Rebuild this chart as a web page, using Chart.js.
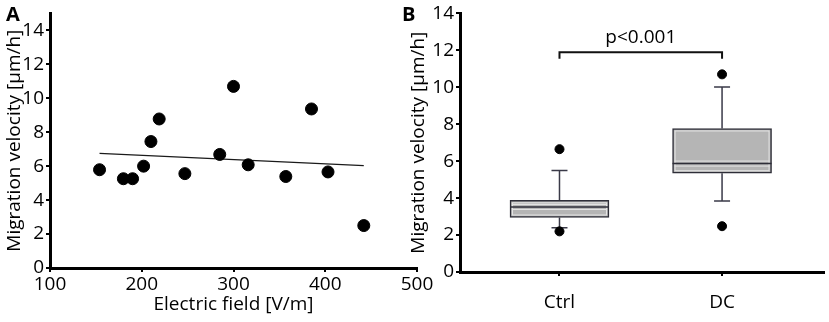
<!DOCTYPE html>
<html>
<head>
<meta charset="utf-8">
<script src="https://cdn.jsdelivr.net/npm/chart.js@4.4.1/dist/chart.umd.min.js"></script>
<style>
    body { margin: 0; background: #fff; width: 829px; height: 322px; position: relative; overflow: hidden; font-family: "Open Sans", sans-serif; }
    canvas { position: absolute; top: 0; }
    #chartA { left: 0; }
    #chartB { left: 395px; }
    .panel { position: absolute; top: 0; font-weight: bold; font-size: 20px; color: #000; }
</style>
</head>
<body>
<canvas id="chartA" width="440" height="322"></canvas>
<canvas id="chartB" width="434" height="322"></canvas>
<div class="panel" style="left:6px">A</div>
<div class="panel" style="left:402px">B</div>
<script>
// Panel A: migration velocity vs electric field
const fieldStrength = [154, 180, 190, 202, 210, 219, 247, 285, 300, 316, 357, 385, 403, 442];
const velocityA = [5.79, 5.26, 5.26, 6.0, 7.45, 8.78, 5.56, 6.69, 10.7, 6.08, 5.39, 9.37, 5.66, 2.5];
const fitX = [154, 442];
const fitY = [6.75, 6.03];
const ticksA = [0, 2, 4, 6, 8, 10, 12, 14];

// Panel B: box plots
const groups = ['Ctrl', 'DC'];
const groupPos = [1, 2];
const whiskerLow = [2.4, 3.85];
const q1 = [2.95, 5.35];
const median = [3.52, 5.87];
const q3 = [3.88, 7.77];
const whiskerHigh = [5.5, 10.02];
const outlierGroup = [1, 1, 2, 2];
const outlierY = [2.2, 6.65, 2.48, 10.7];
const pBracketY = 11.9;
const pBracketLeg = 11.55;
const pLabel = 'p<0.001';

const FONT = '"Open Sans", sans-serif';
const FS = 19;
Chart.defaults.font.family = FONT;
Chart.defaults.color = '#000';

const axisCommon = {
    grid: { drawOnChartArea: false, color: '#000', tickLength: 4, lineWidth: 2 },
    border: { color: '#000', width: 3 },
};

new Chart(document.getElementById('chartA').getContext('2d'), {
    type: 'scatter',
    data: {
        datasets: [
            {
                data: fieldStrength.map((x, i) => ({ x, y: velocityA[i] })),
                backgroundColor: '#000',
                borderColor: '#000',
                pointRadius: 6,
                pointHoverRadius: 6
            },
            {
                type: 'line',
                data: fitX.map((x, i) => ({ x, y: fitY[i] })),
                borderColor: '#1a1a1a',
                borderWidth: 1.3,
                pointRadius: 0,
                fill: false
            }
        ]
    },
    options: {
        responsive: false,
        animation: false,
        devicePixelRatio: 1,
        layout: { padding: { top: 5, right: 23, left: 0, bottom: 6 } },
        plugins: { legend: { display: false }, tooltip: { enabled: false } },
        scales: {
            x: {
                type: 'linear',
                min: 100,
                max: 500,
                ...axisCommon,
                ticks: { stepSize: 100, font: { size: FS }, padding: 1, maxRotation: 0 },
                title: { display: true, text: 'Electric field [V/m]', font: { size: FS }, padding: { top: 0, bottom: 0 } },
                afterFit: s => { s.height = 48; }
            },
            y: {
                min: 0,
                max: 15,
                ...axisCommon,
                ticks: { font: { size: FS }, padding: 2 },
                afterBuildTicks: s => { s.ticks = ticksA.map(v => ({ value: v })); },
                title: { display: true, text: 'Migration velocity [µm/h]', font: { size: FS }, padding: { top: 3, bottom: 0 } },
                afterFit: s => { s.width = 50; }
            }
        }
    }
});

const boxPlugin = {
    id: 'boxExtras',
    beforeDatasetsDraw(chart) {
        const { ctx, scales: { x, y } } = chart;
        ctx.save();
        ctx.strokeStyle = '#3a3a48';
        ctx.lineWidth = 1.5;
        groupPos.forEach((g, i) => {
            const px = x.getPixelForValue(g);
            ctx.beginPath();
            ctx.moveTo(px, y.getPixelForValue(q3[i]));
            ctx.lineTo(px, y.getPixelForValue(whiskerHigh[i]));
            ctx.moveTo(px - 8, y.getPixelForValue(whiskerHigh[i]));
            ctx.lineTo(px + 8, y.getPixelForValue(whiskerHigh[i]));
            ctx.moveTo(px, y.getPixelForValue(q1[i]));
            ctx.lineTo(px, y.getPixelForValue(whiskerLow[i]));
            ctx.moveTo(px - 8, y.getPixelForValue(whiskerLow[i]));
            ctx.lineTo(px + 8, y.getPixelForValue(whiskerLow[i]));
            ctx.stroke();
        });
        // significance bracket
        const x1 = x.getPixelForValue(groupPos[0]);
        const x2 = x.getPixelForValue(groupPos[1]);
        const by = y.getPixelForValue(pBracketY);
        const ly = y.getPixelForValue(pBracketLeg);
        ctx.strokeStyle = '#111';
        ctx.lineWidth = 2;
        ctx.beginPath();
        ctx.moveTo(x1, ly);
        ctx.lineTo(x1, by);
        ctx.lineTo(x2, by);
        ctx.lineTo(x2, ly);
        ctx.stroke();
        ctx.fillStyle = '#000';
        ctx.font = FS + 'px ' + FONT;
        ctx.textAlign = 'center';
        ctx.textBaseline = 'bottom';
        ctx.fillText(pLabel, (x1 + x2) / 2, by - 5);
        ctx.restore();
    },
    afterDatasetDraw(chart, args) {
        if (args.index !== 1) return;
        const { ctx, scales: { y } } = chart;
        const meta = chart.getDatasetMeta(1);
        ctx.save();
        meta.data.forEach((bar, i) => {
            const half = bar.width / 2;
            const top = y.getPixelForValue(q3[i]);
            const bottom = y.getPixelForValue(q1[i]);
            const my = y.getPixelForValue(median[i]);
            ctx.strokeStyle = '#e4e4e4';
            ctx.lineWidth = 1;
            ctx.strokeRect(bar.x - half + 2.5, top + 2.5, 2 * half - 5, bottom - top - 5);
            ctx.beginPath();
            ctx.moveTo(bar.x - half + 2, my - 2.5);
            ctx.lineTo(bar.x + half - 2, my - 2.5);
            ctx.moveTo(bar.x - half + 2, my + 2.5);
            ctx.lineTo(bar.x + half - 2, my + 2.5);
            ctx.stroke();
            ctx.strokeStyle = '#2e2e38';
            ctx.lineWidth = 1.6;
            ctx.beginPath();
            ctx.moveTo(bar.x - half, my);
            ctx.lineTo(bar.x + half, my);
            ctx.stroke();
        });
        ctx.restore();
    }
};

new Chart(document.getElementById('chartB').getContext('2d'), {
    type: 'bar',
    data: {
        datasets: [
            {
                type: 'scatter',
                data: outlierGroup.map((g, i) => ({ x: g, y: outlierY[i] })),
                backgroundColor: '#000',
                borderColor: '#000',
                pointRadius: 4.5,
                pointHoverRadius: 4.5
            },
            {
                type: 'bar',
                data: groupPos.map((g, i) => ({ x: g, y: [q1[i], q3[i]] })),
                backgroundColor: '#b5b5b5',
                borderColor: '#2e2e38',
                borderWidth: 1.5,
                borderSkipped: false,
                barThickness: 99
            }
        ]
    },
    options: {
        responsive: false,
        animation: false,
        devicePixelRatio: 1,
        layout: { padding: { top: 12, right: 0, left: 0, bottom: 0 } },
        plugins: { legend: { display: false }, tooltip: { enabled: false } },
        scales: {
            x: {
                type: 'linear',
                min: 0.388,
                max: 2.624,
                offset: false,
                ...axisCommon,
                grid: { ...axisCommon.grid, offset: false },
                afterBuildTicks: s => { s.ticks = groupPos.map(v => ({ value: v })); },
                ticks: { font: { size: FS }, padding: 15, maxRotation: 0, callback: v => groups[groupPos.indexOf(v)] },
                afterFit: s => { s.height = 50; }
            },
            y: {
                min: 0,
                max: 14,
                ...axisCommon,
                ticks: { stepSize: 2, font: { size: FS }, padding: 2 },
                title: { display: true, text: 'Migration velocity [µm/h]', font: { size: FS }, padding: { top: 12, bottom: 0 } },
                afterFit: s => { s.width = 65; }
            }
        }
    },
    plugins: [boxPlugin]
});
</script>
</body>
</html>
